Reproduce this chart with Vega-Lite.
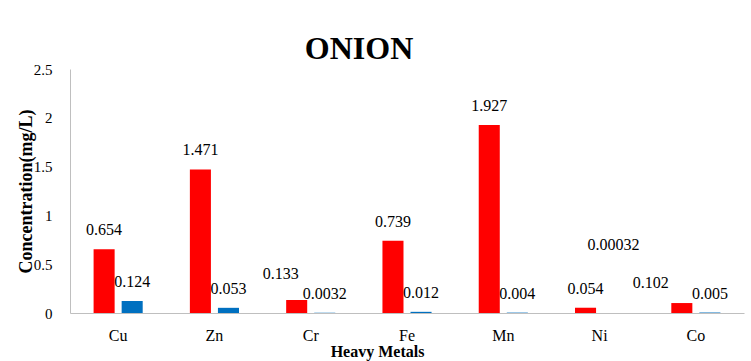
{
  "$schema": "https://vega.github.io/schema/vega-lite/v6.json",
  "width": 674,
  "height": 244,
  "autosize": {"type": "none"},
  "padding": {"left": 70, "top": 69, "right": 7, "bottom": 48},
  "background": "white",
  "title": {
    "text": "ONION",
    "font": "'Liberation Serif', 'Times New Roman', serif",
    "fontSize": 32,
    "fontWeight": "bold",
    "color": "black",
    "anchor": "middle",
    "frame": "group",
    "dx": -48,
    "dy": 38,
    "offset": 9,
    "baseline": "alphabetic"
  },
  "data": {
    "values": [
      {"metal": "Cu", "series": "Series1", "value": 0.654, "label": "0.654"},
      {"metal": "Cu", "series": "Series2", "value": 0.124, "label": "0.124"},
      {"metal": "Zn", "series": "Series1", "value": 1.471, "label": "1.471"},
      {"metal": "Zn", "series": "Series2", "value": 0.053, "label": "0.053"},
      {"metal": "Cr", "series": "Series1", "value": 0.133, "label": "0.133"},
      {"metal": "Cr", "series": "Series2", "value": 0.0032, "label": "0.0032"},
      {"metal": "Fe", "series": "Series1", "value": 0.739, "label": "0.739"},
      {"metal": "Fe", "series": "Series2", "value": 0.012, "label": "0.012"},
      {"metal": "Mn", "series": "Series1", "value": 1.927, "label": "1.927"},
      {"metal": "Mn", "series": "Series2", "value": 0.004, "label": "0.004"},
      {"metal": "Ni", "series": "Series1", "value": 0.054, "label": "0.054"},
      {"metal": "Ni", "series": "Series2", "value": 0.00032, "label": "0.00032"},
      {"metal": "Co", "series": "Series1", "value": 0.102, "label": "0.102"},
      {"metal": "Co", "series": "Series2", "value": 0.005, "label": "0.005"}
    ]
  },
  "encoding": {
    "x": {
      "field": "metal",
      "type": "nominal",
      "sort": ["Cu", "Zn", "Cr", "Fe", "Mn", "Ni", "Co"],
      "scale": {"paddingInner": 0.49, "paddingOuter": 0.245},
      "axis": {
        "labelAngle": 0,
        "ticks": false,
        "grid": false,
        "domainColor": "#bfbfbf",
        "domainWidth": 1,
        "labelFont": "'Liberation Serif', 'Times New Roman', serif",
        "labelFontSize": 16,
        "labelColor": "black",
        "labelPadding": 14,
        "title": "Heavy Metals",
        "titleFont": "'Liberation Serif', 'Times New Roman', serif",
        "titleFontSize": 16,
        "titleFontWeight": "bold",
        "titleColor": "black",
        "titleX": 307,
        "titleY": 43,
        "titleBaseline": "alphabetic"
      }
    },
    "xOffset": {
      "field": "series",
      "type": "nominal",
      "scale": {"paddingInner": 0.25, "paddingOuter": 0}
    },
    "y": {
      "field": "value",
      "type": "quantitative",
      "scale": {"domain": [0, 2.5], "nice": false},
      "axis": {
        "values": [0, 0.5, 1, 1.5, 2, 2.5],
        "format": "~g",
        "ticks": false,
        "grid": false,
        "domainColor": "#bfbfbf",
        "domainWidth": 1,
        "labelFont": "'Liberation Serif', 'Times New Roman', serif",
        "labelFontSize": 15,
        "labelColor": "black",
        "labelPadding": 18,
        "title": "Concentration(mg/L)",
        "titleFont": "'Liberation Serif', 'Times New Roman', serif",
        "titleFontSize": 18,
        "titleFontWeight": "bold",
        "titleColor": "black",
        "titleX": -39,
        "titleY": 122,
        "titleAlign": "center",
        "titleBaseline": "alphabetic"
      }
    }
  },
  "layer": [
    {
      "mark": {"type": "bar"},
      "encoding": {
        "color": {
          "field": "series",
          "type": "nominal",
          "scale": {"domain": ["Series1", "Series2"], "range": ["#FF0000", "#0070C0"]},
          "legend": null
        }
      }
    },
    {
      "transform": [
        {"filter": "!((datum.metal == 'Cr' && datum.series == 'Series1') || (datum.metal == 'Ni' && datum.series == 'Series2') || (datum.metal == 'Co' && datum.series == 'Series1'))"}
      ],
      "mark": {"type": "text", "dy": -19, "baseline": "middle", "font": "'Liberation Serif', 'Times New Roman', serif", "fontSize": 16, "color": "black"},
      "encoding": {"text": {"field": "label", "type": "nominal"}}
    },
    {
      "transform": [{"filter": "datum.metal == 'Cr' && datum.series == 'Series1'"}],
      "mark": {"type": "text", "dx": -16, "dy": -26, "baseline": "middle", "font": "'Liberation Serif', 'Times New Roman', serif", "fontSize": 16, "color": "black"},
      "encoding": {"text": {"field": "label", "type": "nominal"}}
    },
    {
      "transform": [{"filter": "datum.metal == 'Ni' && datum.series == 'Series2'"}],
      "mark": {"type": "text", "dy": -68, "baseline": "middle", "font": "'Liberation Serif', 'Times New Roman', serif", "fontSize": 16, "color": "black"},
      "encoding": {"text": {"field": "label", "type": "nominal"}}
    },
    {
      "transform": [{"filter": "datum.metal == 'Co' && datum.series == 'Series1'"}],
      "mark": {"type": "text", "dx": -31, "dy": -20, "baseline": "middle", "font": "'Liberation Serif', 'Times New Roman', serif", "fontSize": 16, "color": "black"},
      "encoding": {"text": {"field": "label", "type": "nominal"}}
    }
  ],
  "config": {"view": {"stroke": null}}
}
